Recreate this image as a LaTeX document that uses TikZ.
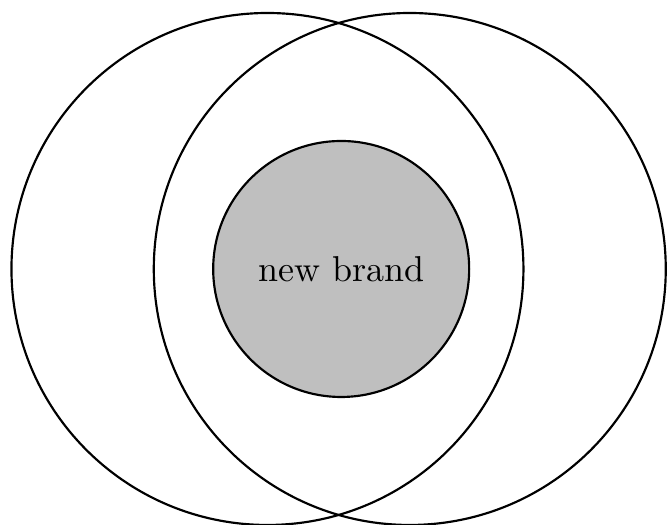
\documentclass[tikz,border=0pt]{standalone}
\begin{document}
\begin{tikzpicture}
    \tikzset{
        ring/.style={draw, semithick, circle, minimum size=5cm, inner sep=0pt},
        core/.style={draw, semithick, circle, minimum size=2.5cm, inner sep=0pt, fill=lightgray}
    }
    \clip (-2.612,-2.5) rectangle (3.902,2.627);
    % Outer circles
    \node[ring] (leftring) at (0,0) {};
    \node[ring] (rightring) at (1.39,0) {};

    % Inner circle
    \node[core] (brand) at (0.72,0) {new brand};
\end{tikzpicture}
\end{document}
